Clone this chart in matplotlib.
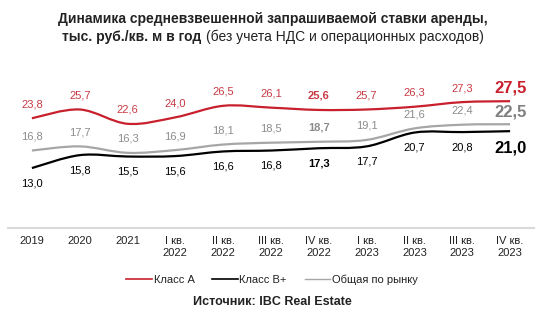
import matplotlib
matplotlib.use("Agg")
import matplotlib.pyplot as plt
from matplotlib.path import Path
from matplotlib.patches import PathPatch
from matplotlib.lines import Line2D
import numpy as np

plt.rcParams['font.family'] = ['Liberation Sans', 'DejaVu Sans']

categories = ["2019", "2020", "2021", "I кв.\n2022", "II кв.\n2022", "III кв.\n2022",
              "IV кв.\n2022", "I кв.\n2023", "II кв.\n2023", "III кв.\n2023", "IV кв.\n2023"]
class_a = [23.8, 25.7, 22.6, 24.0, 26.5, 26.1, 25.6, 25.7, 26.3, 27.3, 27.5]
class_b = [13.0, 15.8, 15.5, 15.6, 16.6, 16.8, 17.3, 17.7, 20.7, 20.8, 21.0]
market = [16.8, 17.7, 16.3, 16.9, 18.1, 18.5, 18.7, 19.1, 21.6, 22.4, 22.5]
series_names = ["Класс А", "Класс B+", "Общая по рынку"]
bold_index = 6

RED = "#C8202C"
RED_LBL = "#C83A44"
BLACK = "#000000"
GRAY = "#A6A6A6"
GRAY_LBL = "#8C8C8C"

fig = plt.figure(figsize=(5.47, 3.25), dpi=100)
W, H = 547, 325
ax = fig.add_axes([8 / W, 1 - 228 / H, 526 / W, 166 / H])
ax.set_xlim(-0.5, 10.5)
ax.set_ylim(0, 36)


def smooth_path(xs, ys):
    pts = np.column_stack([xs, ys]).astype(float)
    n = len(pts)
    verts = [pts[0]]
    codes = [Path.MOVETO]
    for i in range(n - 1):
        p0 = pts[i - 1] if i > 0 else pts[i]
        p1 = pts[i]
        p2 = pts[i + 1]
        p3 = pts[i + 2] if i + 2 < n else pts[i + 1]
        c1 = p1 + (p2 - p0) / 6.0
        c2 = p2 - (p3 - p1) / 6.0
        verts += [c1, c2, p2]
        codes += [Path.CURVE4] * 3
    return Path(verts, codes)


x = np.arange(len(categories))
for vals, col, lw in [(market, GRAY, 1.6), (class_b, BLACK, 1.6), (class_a, RED, 1.6)]:
    ax.add_patch(PathPatch(smooth_path(x, vals), facecolor="none", edgecolor=col,
                           lw=lw, capstyle="butt", joinstyle="round"))


def fmt(v):
    return f"{v:.1f}".replace(".", ",")


n = len(categories)
for i in range(n):
    last = i == n - 1
    for vals, col, off in [(class_a, RED_LBL, 14), (market, GRAY_LBL, 14), (class_b, BLACK, -15)]:
        if last:
            size, weight = 12, "bold"
            c = {RED_LBL: RED, GRAY_LBL: "#7F7F7F", BLACK: BLACK}[col]
            o = {14: 13, -15: -17}[off]
            if vals is market:
                o = 12
        else:
            size = 8
            weight = "bold" if i == bold_index else "normal"
            c = col
            o = off
        ax.annotate(fmt(vals[i]), (x[i], vals[i]), xytext=(0, o), textcoords="offset pixels",
                    ha="center", va="center", fontsize=size, fontweight=weight, color=c)

ax.set_xticks(x)
ax.set_xticklabels(categories, fontsize=8, linespacing=1.15, color="#222222")
ax.tick_params(axis="x", length=0, pad=6)
ax.set_yticks([])
for s in ["top", "left", "right"]:
    ax.spines[s].set_visible(False)
ax.spines["bottom"].set_color("#D9D9D9")
ax.spines["bottom"].set_linewidth(1.5)

handles = [Line2D([], [], color=RED, lw=1.2), Line2D([], [], color=BLACK, lw=1.2),
           Line2D([], [], color=GRAY, lw=1.0)]
fig.legend(handles, series_names, loc="center", bbox_to_anchor=(272 / W, 1 - 280 / H),
           ncol=3, frameon=False, fontsize=8, handlelength=2.3, handletextpad=0.15,
           columnspacing=1.6, labelcolor="#222222")

fig.text(272 / W, 1 - 302 / H, "Источник: IBC Real Estate", ha="center", va="center",
         fontsize=9, fontweight="bold", color="#222222")

# Title
fig.text(273 / W, 1 - 19 / H, "Динамика средневзвешенной запрашиваемой ставки аренды,",
         ha="center", va="center", fontsize=10, fontweight="bold", color="#222222")
t1 = fig.text(0, 1 - 37 / H, "тыс. руб./кв. м в год ", ha="left", va="center",
              fontsize=10, fontweight="bold", color="#222222")
t2 = fig.text(0, 1 - 37 / H, "(без учета НДС и операционных расходов)", ha="left",
              va="center", fontsize=10, color="#222222")
fig.canvas.draw()
r = fig.canvas.get_renderer()
w1 = t1.get_window_extent(r).width
w2 = t2.get_window_extent(r).width
x0 = 273 - (w1 + w2) / 2
t1.set_x(x0 / W)
t2.set_x((x0 + w1) / W)

fig.savefig("out.png", dpi=100)
